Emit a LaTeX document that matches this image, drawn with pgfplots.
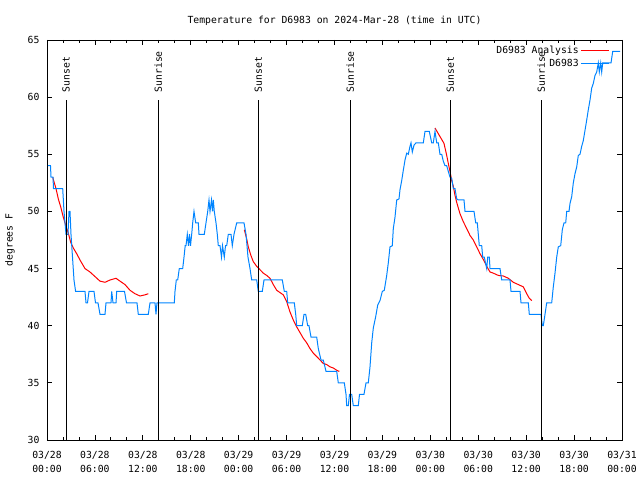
\documentclass[border=0pt]{standalone}
\usepackage{pgfplots}
\usepackage{pgfplotstable}
\pgfplotsset{compat=1.18}
\usepackage{fontspec}
\setmainfont{DejaVu Sans Mono}
\definecolor{gpblue}{RGB}{0,132,255}
\definecolor{gpred}{RGB}{255,0,0}

\pgfplotstableread{
h T
0.125 54
0.438 54
0.501 53
0.751 53
0.814 52
1.127 52
1.966 52
2.129 50
2.254 49
2.379 48
2.630 48
2.755 50
2.880 50
3.005 48
3.193 46
3.381 44
3.581 43
4.758 43
4.884 42
5.071 42
5.259 43
5.885 43
6.073 42
6.386 42
6.637 41
7.263 41
7.388 42
8.014 42
8.102 43
8.264 42
8.640 42
8.728 43
9.705 43
9.955 42
11.270 42
11.432 41
12.685 41
12.898 42
13.524 42
13.649 41
13.774 42
15.940 42
16.028 43
16.191 44
16.366 44
16.566 45
16.992 45
17.155 46
17.305 47
17.405 47
17.568 48
17.718 47
17.844 48
17.969 47
18.119 48
18.244 49
18.407 50
18.620 49
18.946 49
19.033 48
19.697 48
19.910 49
20.123 50
20.285 51
20.411 50
20.598 51
20.724 50
20.824 51
20.949 50
21.162 49
21.325 48
21.450 47
21.663 47
21.851 46
21.976 47
22.201 46
22.352 47
22.502 47
22.702 48
23.040 48
23.203 47
23.416 48
23.754 49
24.668 49
24.919 48
25.169 46
25.420 45
25.632 44
26.258 44
26.459 43
26.960 43
27.173 44
29.464 44
29.715 43
30.015 43
30.140 42
30.967 42
31.142 41
31.267 40
31.968 40
32.181 41
32.394 41
32.645 40
32.807 40
33.058 39
33.221 39
33.772 39
33.972 38
34.310 37
34.598 37
34.936 36
36.276 36
36.476 35
37.228 35
37.441 34
37.528 33
37.729 33
37.879 34
38.154 34
38.355 33
38.981 33
39.131 34
39.694 34
39.945 35
40.233 35
40.446 36.4
40.659 38.5
40.859 39.8
41.160 40.8
41.410 41.8
41.698 42.2
41.986 43
42.236 43.1
42.537 44.4
42.737 45.5
42.950 46.9
43.238 47
43.363 48.5
43.576 49.5
43.789 51
44.077 51.1
44.202 51.9
44.415 52.7
44.616 53.6
44.828 54.5
45.041 55.1
45.242 55
45.454 55.7
45.580 56
45.743 55.2
45.956 55.8
46.206 56
47.120 56
47.333 57
47.871 57
48.172 56
48.372 56
48.585 57
48.798 56
48.998 56
49.211 55
49.424 55
49.624 54.4
49.837 54
50.050 54
50.251 53.5
50.463 53
50.676 52.9
50.877 52
51.089 52
51.302 51.1
51.503 51
52.216 51
52.342 50
53.469 50
53.682 49
53.882 49
54.007 48
54.132 47
54.433 47
54.558 46
54.758 46
55.059 45
55.184 46
55.384 46
55.472 45
55.597 45
56.724 45
56.937 44
57.976 44
58.102 43
59.229 43
59.354 42
60.268 42
60.393 41
61.858 41
62.021 40
62.146 40
62.359 41
62.572 42
63.198 42
63.398 43.4
63.611 44.6
63.824 46
64.024 46.9
64.325 47
64.525 48.4
64.738 49
64.951 49
65.076 50
65.364 50
65.490 50.7
65.703 51.3
65.903 52.5
66.116 53.3
66.329 53.9
66.529 54.9
66.742 55
66.955 55.7
67.155 56.2
67.368 57.1
67.581 58
67.782 58.9
67.994 59.75
68.207 60.8
68.407 61.2
68.620 61.9
68.833 62.2
69.033 63
69.158 62.2
69.334 63
69.459 62.2
69.584 63
70.624 63
70.837 64
71.751 64
}\obsdata

\begin{document}
\begin{tikzpicture}
\useasboundingbox (-47bp,-40bp) rectangle (593bp,440bp);
\begin{axis}[
  at={(0,0)}, anchor=south west,
  scale only axis, width=575bp, height=400bp,
  xmin=0, xmax=72, ymin=30, ymax=65,
  xtick={0,6,...,72},
  xticklabels={{03/28\\00:00},{03/28\\06:00},{03/28\\12:00},{03/28\\18:00},{03/29\\00:00},{03/29\\06:00},{03/29\\12:00},{03/29\\18:00},{03/30\\00:00},{03/30\\06:00},{03/30\\12:00},{03/30\\18:00},{03/31\\00:00}},
  minor x tick num=2,
  ytick={30,35,...,65},
  major tick length=5bp, minor tick length=3bp,
  tick style={black, line width=0.8bp},
  axis line style={black, line width=0.9bp},
  /pgf/number format/assume math mode=true,
  ticklabel style={font=\fontsize{9.8}{14}\selectfont},
  xticklabel style={align=center, yshift=-8bp},
  yticklabel style={xshift=-4bp},
  legend plot pos=right,
  legend cell align=right,
  legend image code/.code={\draw[#1] (6bp,0bp) -- (34bp,0bp);},
  legend style={at={(0.979,0.99)}, anchor=north east, draw=none, fill=none,
    font=\fontsize{9.8}{12}\selectfont, row sep=0bp, inner sep=0pt},
]
\addplot[gpred, line width=1bp] coordinates {
(0.714,52.98) (1.127,52.0) (1.415,51.1) (1.716,50.4) (2.041,49.5) (2.379,48.7)
(2.667,48.1) (2.968,47.3) (3.293,46.8) (3.719,46.3) (4.132,45.75) (4.758,45.0)
(5.385,44.7) (6.011,44.3) (6.637,43.9) (7.263,43.8) (7.889,44.0) (8.640,44.15)
(9.141,43.9) (9.767,43.6) (10.393,43.1) (11.019,42.8) (11.645,42.6) (12.271,42.7)
(12.685,42.8)};
\addlegendentry{D6983 Analysis}
\addplot[gpred, line width=1bp, forget plot] coordinates {
(24.706,48.4) (25.006,47.6) (25.207,46.9) (25.507,46.2) (25.833,45.6) (26.258,45.2)
(26.672,44.9) (27.085,44.6) (27.511,44.4) (27.924,44.15) (28.337,43.6) (28.763,43.1)
(29.176,42.9) (29.589,42.7) (30.015,42.1) (30.428,41.2) (30.841,40.5) (31.267,39.9)
(31.681,39.4) (32.094,38.9) (32.519,38.5) (32.933,38.0) (33.346,37.6) (33.772,37.3)
(34.185,37.0) (34.598,36.7) (35.024,36.6) (35.437,36.4) (35.850,36.3) (36.276,36.1)
(36.601,36.0)};
\addplot[gpred, line width=1bp, forget plot] coordinates {
(48.585,57.3) (48.998,56.8) (49.424,56.3) (49.712,55.95) (50.050,54.9) (50.251,54.2)
(50.463,53.5) (50.676,52.7) (50.877,52.2) (51.089,51.4) (51.302,50.8) (51.503,50.3)
(51.715,49.8) (52.128,49.1) (52.554,48.5) (52.967,47.9) (53.381,47.5) (53.807,46.9)
(54.220,46.3) (54.633,45.8) (55.059,45.2) (55.472,44.7) (55.885,44.6) (56.511,44.4)
(57.138,44.35) (57.764,44.15) (58.390,43.8) (59.016,43.6) (59.642,43.4) (60.068,42.8)
(60.393,42.4) (60.694,42.2)};
\addplot[gpblue, line width=1bp] table[x=h, y=T] {\obsdata};
\addlegendentry{D6983}
% sunrise / sunset markers
\addplot[black, line width=0.9bp, forget plot] coordinates {(2.40,30) (2.40,59.75)};
\addplot[black, line width=0.9bp, forget plot] coordinates {(13.93,30) (13.93,59.75)};
\addplot[black, line width=0.9bp, forget plot] coordinates {(26.45,30) (26.45,59.75)};
\addplot[black, line width=0.9bp, forget plot] coordinates {(37.97,30) (37.97,59.75)};
\addplot[black, line width=0.9bp, forget plot] coordinates {(50.50,30) (50.50,59.75)};
\addplot[black, line width=0.9bp, forget plot] coordinates {(61.90,30) (61.90,59.75)};
\node[rotate=90, anchor=west, inner sep=0pt, font=\fontsize{9.8}{12}\selectfont] at (axis cs:2.40,60.4) {Sunset};
\node[rotate=90, anchor=west, inner sep=0pt, font=\fontsize{9.8}{12}\selectfont] at (axis cs:13.93,60.4) {Sunrise};
\node[rotate=90, anchor=west, inner sep=0pt, font=\fontsize{9.8}{12}\selectfont] at (axis cs:26.45,60.4) {Sunset};
\node[rotate=90, anchor=west, inner sep=0pt, font=\fontsize{9.8}{12}\selectfont] at (axis cs:37.97,60.4) {Sunrise};
\node[rotate=90, anchor=west, inner sep=0pt, font=\fontsize{9.8}{12}\selectfont] at (axis cs:50.50,60.4) {Sunset};
\node[rotate=90, anchor=west, inner sep=0pt, font=\fontsize{9.8}{12}\selectfont] at (axis cs:61.90,60.4) {Sunrise};
\end{axis}
\node[font=\fontsize{9.8}{12}\selectfont] at (287.5bp,419bp) {Temperature for D6983 on 2024-Mar-28 (time in UTC)};
\node[rotate=90, font=\fontsize{9.8}{12}\selectfont] at (-37bp,200bp) {degrees F};
\end{tikzpicture}
\end{document}
